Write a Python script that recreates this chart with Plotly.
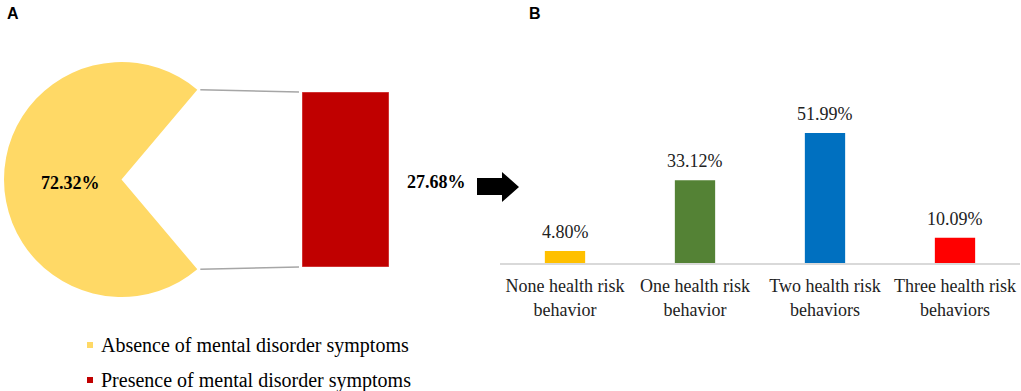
import math
import plotly.graph_objects as go

# ---------------- data ----------------
pie_labels = ["Presence of mental disorder symptoms", "Absence of mental disorder symptoms"]
pie_values = [27.68, 72.32]
pie_colors = ["#C00000", "#FFD966"]

bar_categories = ["None health risk<br>behavior", "One health risk<br>behavior",
                  "Two health risk<br>behaviors", "Three health risk<br>behaviors"]
bar_values = [4.80, 33.12, 51.99, 10.09]
bar_colors = ["#FFC000", "#548235", "#0070C0", "#FF0000"]

W, H = 1021, 391
SERIF = "Liberation Serif, Times New Roman, serif"


def px(x):
    return x / W


def py(y):
    return 1 - y / H


fig = go.Figure()

# ---- Panel A: pie (missing slice shown separately as the red bar) ----
cx, cy, r = 121.5, 179.5, 117.5
missing = pie_values[0] / sum(pie_values) * 360
fig.add_trace(go.Pie(
    labels=pie_labels, values=pie_values, sort=False, direction="clockwise",
    rotation=90 - missing / 2,
    marker=dict(colors=["rgba(0,0,0,0)", pie_colors[1]], line=dict(width=0)),
    textinfo="none", hoverinfo="label+value", showlegend=False,
    domain=dict(x=[px(cx - r), px(cx + r)], y=[py(cy + r), py(cy - r)]),
))

# red bar for the presence share
rx0, rx1, ry0, ry1 = 302, 389, 92, 267
fig.add_trace(go.Bar(
    x=["p"], y=[pie_values[0]], width=1,
    marker=dict(color=pie_colors[0], line=dict(color="#E06666", width=1)),
    xaxis="x3", yaxis="y3", showlegend=False, hoverinfo="y",
))

# ---- Panel B: bars ----
fig.add_trace(go.Bar(
    x=bar_categories, y=bar_values, width=0.31,
    marker=dict(color=bar_colors, line=dict(width=0)),
    xaxis="x2", yaxis="y2", showlegend=False,
))

annotations = []
for c, v in zip(bar_categories, bar_values):
    annotations.append(dict(
        x=c, y=v, xref="x2", yref="y2", text=f"{v:.2f}%", showarrow=False,
        xanchor="center", yanchor="bottom", yshift=7,
        font=dict(family=SERIF, size=18, color="#222")))


def paper_text(x, y, text, font, xanchor="center"):
    annotations.append(dict(x=px(x), y=py(y), xref="paper", yref="paper", text=text,
                            showarrow=False, xanchor=xanchor, yanchor="middle", font=font))


bold_serif = dict(family=SERIF, size=18, color="black")
paper_text(70, 183, f"<b>{pie_values[1]:.2f}%</b>", bold_serif)
paper_text(436, 182, f"<b>{pie_values[0]:.2f}%</b>", bold_serif)
letter_font = dict(family="Liberation Sans, Arial", size=16, color="black")
paper_text(13, 14, "<b>A</b>", letter_font)
paper_text(535, 14, "<b>B</b>", letter_font)

# custom legend
shapes = []
legend_items = [(pie_labels[1], pie_colors[1], 345), (pie_labels[0], pie_colors[0], 380)]
for lab, col, yy in legend_items:
    shapes.append(dict(type="rect", xref="paper", yref="paper",
                       x0=px(87), x1=px(93), y0=py(yy + 3), y1=py(yy - 3),
                       fillcolor=col, line=dict(width=0)))
    paper_text(99, yy, lab, dict(family=SERIF, size=20, color="black"), xanchor="left")

# connector lines from pie wedge edges to red bar corners
half = math.radians(missing / 2)
ex = cx + r * math.cos(half)
ey_top = cy - r * math.sin(half)
ey_bot = cy + r * math.sin(half)
for (y_a, y_b) in [(ey_top, ry0), (ey_bot, ry1)]:
    shapes.append(dict(type="line", xref="paper", yref="paper",
                       x0=px(ex + 3), y0=py(y_a), x1=px(rx0 - 3), y1=py(y_b),
                       line=dict(color="#A6A6A6", width=1.5)))

# block arrow
pts = [(477, 178), (502, 178), (502, 172), (519, 187), (502, 202), (502, 195), (477, 195)]
path = "M " + " L ".join(f"{px(x):.5f},{py(y):.5f}" for x, y in pts) + " Z"
shapes.append(dict(type="path", xref="paper", yref="paper", path=path,
                   fillcolor="black", line=dict(width=0)))

fig.update_layout(
    width=W, height=H, margin=dict(l=0, r=0, t=0, b=0),
    paper_bgcolor="white", plot_bgcolor="rgba(0,0,0,0)",
    xaxis=dict(visible=False),
    yaxis=dict(visible=False),
    xaxis2=dict(domain=[px(500), px(1020)], anchor="y2", range=[-0.5, 3.5],
                showline=True, linecolor="#D9D9D9", linewidth=1.5,
                ticks="outside", ticklen=6, tickcolor="rgba(0,0,0,0)",
                tickfont=dict(family=SERIF, size=18, color="#222"), showgrid=False, zeroline=False),
    yaxis2=dict(domain=[py(263), py(113)], anchor="x2", range=[0, 60], visible=False),
    xaxis3=dict(domain=[px(rx0), px(rx1)], anchor="y3", range=[-0.5, 0.5], visible=False),
    yaxis3=dict(domain=[py(ry1), py(ry0)], anchor="x3", range=[0, pie_values[0]], visible=False),
    annotations=annotations, shapes=shapes,
)

fig.write_html("out.html", config={"displayModeBar": False},
               post_script="document.body.style.margin='0';document.body.style.overflow='hidden';")
